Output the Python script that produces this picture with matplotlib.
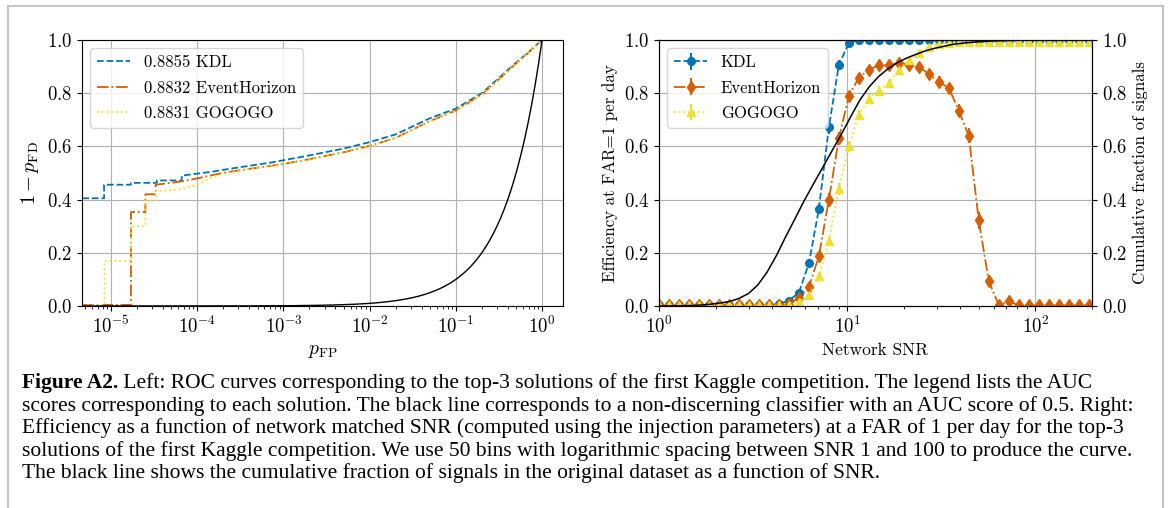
import numpy as np
import matplotlib
matplotlib.use("Agg")
import matplotlib.pyplot as plt
from matplotlib.lines import Line2D

plt.rcParams.update({
    "font.family": "serif",
    "font.serif": ["cmr10"],
    "mathtext.fontset": "cm",
    "axes.formatter.use_mathtext": True,
    "axes.unicode_minus": False,
    "font.size": 12,
    "legend.fontsize": 12,
    "xtick.labelsize": 13.5,
    "ytick.labelsize": 13.5,
})

# ---- left panel: ROC curves ----
kdl_fp = [1e-6, 8.3e-6, 8.3e-6, 1.7e-5, 1.7e-5, 3.4e-5, 3.4e-5, 6.6e-5, 6.6e-5,
          1.5e-4, 2.2e-4, 3.2e-4, 4.6e-4, 6.8e-4, 1e-3, 2e-3, 5e-3, 1e-2, 2e-2,
          5e-2, 1e-1, 0.2, 0.35, 0.5, 0.7, 1.0]
kdl_tpr = [0.405, 0.405, 0.456, 0.456, 0.463, 0.463, 0.472, 0.472, 0.49,
           0.505, 0.514, 0.522, 0.530, 0.538, 0.548, 0.566, 0.592, 0.616, 0.645,
           0.706, 0.742, 0.80, 0.87, 0.915, 0.955, 1.0]

eh_fp = [1e-6, 1.7e-5, 1.7e-5, 2.5e-5, 2.5e-5, 3.3e-5, 3.3e-5, 5e-5, 7e-5,
         1e-4, 1.5e-4, 2.2e-4, 3.2e-4, 5e-4, 1e-3, 2e-3, 5e-3, 1e-2, 2e-2,
         5e-2, 1e-1, 0.2, 0.35, 0.5, 0.7, 1.0]
eh_tpr = [0.004, 0.004, 0.353, 0.353, 0.42, 0.42, 0.456, 0.463, 0.47,
          0.48, 0.492, 0.503, 0.511, 0.52, 0.534, 0.552, 0.578, 0.602, 0.632,
          0.695, 0.735, 0.795, 0.865, 0.912, 0.953, 1.0]

gg_fp = [1e-6, 8.4e-6, 8.4e-6, 1.7e-5, 1.7e-5, 2.5e-5, 2.5e-5, 3.3e-5, 3.3e-5,
         6e-5, 1e-4, 1.5e-4, 2.2e-4, 3.2e-4, 5e-4, 1e-3, 2e-3, 5e-3, 1e-2,
         2e-2, 5e-2, 1e-1, 0.2, 0.35, 0.5, 0.7, 1.0]
gg_tpr = [0.003, 0.003, 0.17, 0.17, 0.30, 0.30, 0.397, 0.397, 0.432,
          0.438, 0.455, 0.485, 0.50, 0.51, 0.52, 0.533, 0.551, 0.577, 0.601,
          0.631, 0.694, 0.734, 0.795, 0.865, 0.912, 0.953, 1.0]

roc_labels = ["0.8855 KDL", "0.8832 EventHorizon", "0.8831 GOGOGO"]

# ---- right panel: efficiency vs SNR (log-spaced bins) ----
snr_bins = np.geomspace(1, 400, 50)[:44]
kdl_eff = [0.002] * 12 + [0.008, 0.02, 0.05, 0.16, 0.365, 0.672, 0.906, 0.99] + [0.999] * 24
kdl_err = [0.002] * 12 + [0.004, 0.006, 0.01, 0.015, 0.02, 0.025, 0.02, 0.006] + [0.002] * 24
eh_eff = ([0.002] * 13 + [0.008, 0.03, 0.072, 0.187, 0.40, 0.63, 0.79, 0.859, 0.888,
          0.905, 0.905, 0.915, 0.906, 0.90, 0.872, 0.843, 0.82, 0.734, 0.64, 0.322,
          0.094, 0.003, 0.018] + [0.002] * 8)
eh_err = ([0.002] * 13 + [0.004, 0.008, 0.012, 0.018, 0.025, 0.025, 0.02, 0.016, 0.015,
          0.015, 0.015, 0.015, 0.016, 0.016, 0.018, 0.02, 0.02, 0.025, 0.028, 0.032,
          0.022, 0.004, 0.01] + [0.002] * 8)
gg_eff = ([0.002] * 14 + [0.015, 0.041, 0.112, 0.245, 0.44, 0.60, 0.718, 0.78, 0.81,
          0.84, 0.886, 0.924, 0.952, 0.975, 0.985, 0.99] + [0.993] * 14)
gg_err = ([0.002] * 14 + [0.006, 0.01, 0.014, 0.02, 0.022, 0.022, 0.02, 0.018, 0.016,
          0.015, 0.012, 0.01, 0.008, 0.006, 0.005, 0.004] + [0.003] * 14)
eff_labels = ["KDL", "EventHorizon", "GOGOGO"]

cum_snr = [1.0, 1.3, 1.51, 1.7, 1.89, 2.1, 2.38, 2.65, 2.99, 3.35, 3.75, 4.21, 4.71,
           5.28, 5.92, 6.63, 7.43, 8.33, 9.34, 10.5, 11.7, 13.1, 14.7, 16.5, 18.5,
           20.7, 23.2, 26.0, 29.2, 36.7, 45.0, 57.8, 80.0, 120.0, 200.0]
cum_frac = [0.0, 0.0008, 0.002, 0.004, 0.007, 0.011, 0.017, 0.028, 0.047, 0.079, 0.127,
            0.19, 0.26, 0.328, 0.397, 0.46, 0.522, 0.585, 0.647, 0.715, 0.775, 0.824,
            0.863, 0.892, 0.915, 0.932, 0.946, 0.959, 0.969, 0.984, 0.991, 0.996,
            0.999, 1.0, 1.0]

blue = "#0173b2"
orange = "#d55e00"
yellow = "#ece133"

W, H = 1168, 508
fig = plt.figure(figsize=(W / 100, H / 100), dpi=100)

ax1 = fig.add_axes([82 / W, 1 - 306 / H, 481 / W, 266 / H])
ax1.plot(kdl_fp, kdl_tpr, "--", color=blue, lw=1.3, label=roc_labels[0])
ax1.plot(eh_fp, eh_tpr, "-.", color=orange, lw=1.3, label=roc_labels[1])
ax1.plot(gg_fp, gg_tpr, ":", color=yellow, lw=1.3, label=roc_labels[2])
chance = np.logspace(-6, 0, 300)
ax1.plot(chance, chance, color="black", lw=1.0)
ax1.set_xscale("log")
ax1.set_xlim(4.6e-6, 1.75)
ax1.set_ylim(0, 1)
ax1.set_xlabel(r"$p_{\rm FP}$", fontsize=14)
ax1.set_ylabel(r"$1 - p_{\rm FD}$", fontsize=14.5)
ax1.grid(True, which="major", color="#b0b0b0", lw=0.8)
ax1.legend(loc="upper left", labelspacing=0.6)

ax2 = fig.add_axes([659 / W, 1 - 306 / H, 433 / W, 266 / H])
ax2.errorbar(snr_bins, kdl_eff, yerr=kdl_err, fmt="o--", color=blue, ms=5.5,
             lw=1.3, elinewidth=1.5, label=eff_labels[0])
ax2.errorbar(snr_bins, eh_eff, yerr=eh_err, fmt="d-.", color=orange, ms=6,
             lw=1.3, elinewidth=1.5, label=eff_labels[1])
ax2.errorbar(snr_bins, gg_eff, yerr=gg_err, fmt="^:", color=yellow, ms=6,
             lw=1.3, elinewidth=1.5, label=eff_labels[2])
ax2.set_xscale("log")
ax2.set_xlim(1, 200)
ax2.set_ylim(0, 1)
ax2.set_xlabel("Network SNR", fontsize=12.5)
ax2.set_ylabel("Efficiency at FAR=1 per day", fontsize=12.2)
ax2.grid(True, which="major", color="#b0b0b0", lw=0.8)
ax2.legend(loc="upper left", labelspacing=0.6)

ax3 = ax2.twinx()
ax3.plot(cum_snr, cum_frac, color="black", lw=1.1)
ax3.set_ylim(0, 1)
ax3.set_ylabel("Cumulative fraction of signals", fontsize=12.2)

# page frame around figure + caption
frame = "#c4c4c4"
fig.add_artist(Line2D([8 / W, 8 / W], [0, 1 - 6 / H], color=frame, lw=1.5))
fig.add_artist(Line2D([8 / W, 1163 / W], [1 - 6 / H, 1 - 6 / H], color=frame, lw=1.5))
fig.add_artist(Line2D([1163 / W, 1163 / W], [0, 1 - 6 / H], color=frame, lw=1.5))

caption = [
    " Left: ROC curves corresponding to the top-3 solutions of the first Kaggle competition. The legend lists the AUC",
    "scores corresponding to each solution. The black line corresponds to a non-discerning classifier with an AUC score of 0.5. Right:",
    "Efficiency as a function of network matched SNR (computed using the injection parameters) at a FAR of 1 per day for the top-3",
    "solutions of the first Kaggle competition. We use 50 bins with logarithmic spacing between SNR 1 and 100 to produce the curve.",
    "The black line shows the cumulative fraction of signals in the original dataset as a function of SNR.",
]
cap_font = dict(family="Liberation Serif")
renderer = fig.canvas.get_renderer()
probe = fig.text(0, 0, caption[1], fontsize=12, **cap_font)
width = probe.get_window_extent(renderer).width
probe.remove()
cap_size = 12 * 1110 / width

x0 = 22 / W
for i, line in enumerate(caption):
    y = 1 - (388 + 22.6 * i) / H
    if i == 0:
        bold = fig.text(x0, y, "Figure A2.", fontsize=cap_size, weight="bold",
                        va="baseline", **cap_font)
        bw = bold.get_window_extent(renderer).width
        fig.text(x0 + bw / W, y, line, fontsize=cap_size, va="baseline", **cap_font)
    else:
        fig.text(x0, y, line, fontsize=cap_size, va="baseline", **cap_font)

fig.savefig("out.png", dpi=100)
